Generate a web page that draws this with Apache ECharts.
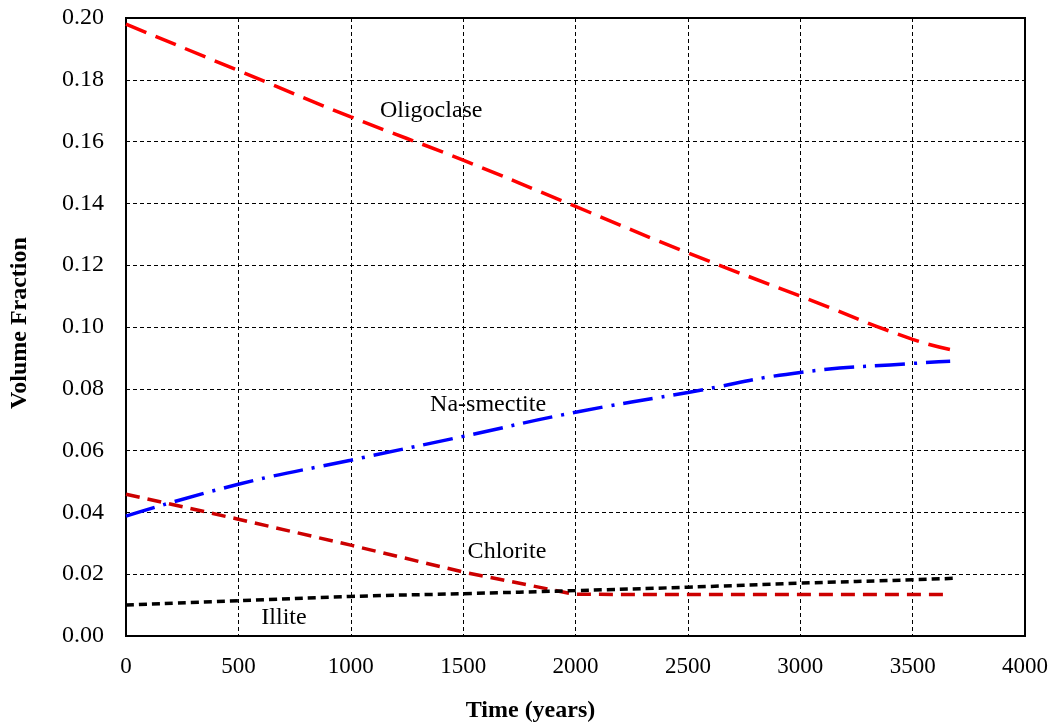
<!DOCTYPE html>
<html><head><meta charset="utf-8">
<script src="https://cdn.jsdelivr.net/npm/echarts@6/dist/echarts.min.js"></script>
<style>html,body{margin:0;padding:0;background:#fff}#c{width:1056px;height:728px}</style>
</head><body><div id="c"></div>
<script>
const years = [0, 500, 1000, 1500, 2000, 2500, 3000, 3500, 3690];
const oligoclase = [0.198, 0.183, 0.168, 0.154, 0.139, 0.124, 0.110, 0.096, 0.0924];
const naSmectiteYears = [0, 500, 1000, 1500, 2000, 2500, 3000, 3500, 3667];
const naSmectite = [0.0388, 0.0491, 0.0569, 0.0646, 0.0724, 0.0788, 0.0853, 0.0882, 0.0889];
const chloriteYears = [0, 500, 1000, 1500, 1995, 2500, 3000, 3640];
const chlorite = [0.0459, 0.0378, 0.0294, 0.0207, 0.0135, 0.0134, 0.0134, 0.0134];
const illite = [0.0100, 0.0114, 0.0128, 0.0137, 0.0147, 0.0158, 0.0171, 0.0182, 0.0187];
const curveLabels = ['Oligoclase', 'Na-smectite', 'Chlorite', 'Illite'];
const labelX = [1358, 1611, 1695, 703];
const labelY = [0.1700, 0.0748, 0.0274, 0.0060];

const pair = (xs, ys) => xs.map((x, i) => [x, ys[i]]);
const font = 'Liberation Serif, Times New Roman, serif';
const chart = echarts.init(document.getElementById('c'));
chart.setOption({
  animation: false,
  grid: {left: 126, right: 31, top: 18, bottom: 91, show: true, borderColor: '#000', borderWidth: 2},
  xAxis: {
    type: 'value', min: 0, max: 4000, interval: 500,
    name: 'Time (years)', nameLocation: 'middle', nameGap: 63,
    nameTextStyle: {fontFamily: font, fontSize: 24, fontWeight: 'bold', color: '#000', padding: [0, 90, 0, 0]},
    axisLine: {show: true, lineStyle: {color: '#000', width: 2}},
    axisTick: {show: false},
    axisLabel: {fontFamily: font, fontSize: 23, color: '#000', margin: 19, formatter: v => String(v)},
    splitLine: {show: true, lineStyle: {color: '#000', width: 1, type: [4, 3]}}
  },
  yAxis: {
    type: 'value', min: 0, max: 0.2, interval: 0.02,
    name: 'Volume Fraction', nameLocation: 'middle', nameGap: 94,
    nameTextStyle: {fontFamily: font, fontSize: 24, fontWeight: 'bold', color: '#000', padding: [0, 0, 0, 8]},
    axisLine: {show: true, lineStyle: {color: '#000', width: 2}},
    axisTick: {show: false},
    axisLabel: {fontFamily: font, fontSize: 24, color: '#000', margin: 22, formatter: v => v.toFixed(2)},
    splitLine: {show: true, lineStyle: {color: '#000', width: 1, type: [4, 3]}}
  },
  series: [
    {type: 'line', data: pair(years, oligoclase), showSymbol: false, smooth: true,
     lineStyle: {color: '#ff0000', width: 3.5, type: [22, 10]}},
    {type: 'line', data: pair(naSmectiteYears, naSmectite), showSymbol: false, smooth: true,
     lineStyle: {color: '#0000ff', width: 3.5, type: [30, 9, 3, 9]}},
    {type: 'line', data: pair(chloriteYears, chlorite), showSymbol: false,
     lineStyle: {color: '#cc0000', width: 3.5, type: [14, 8]}},
    {type: 'line', data: pair(years, illite), showSymbol: false, smooth: true,
     lineStyle: {color: '#000', width: 3.5, type: [8, 5]}},
    {type: 'scatter', symbolSize: 0, silent: true, itemStyle: {opacity: 1},
     data: curveLabels.map((t, i) => ({value: [labelX[i], labelY[i]], name: t})),
     label: {show: true, position: 'inside', formatter: p => p.name, fontFamily: font, fontSize: 24, color: '#000', opacity: 1}}
  ]
});
</script></body></html>
